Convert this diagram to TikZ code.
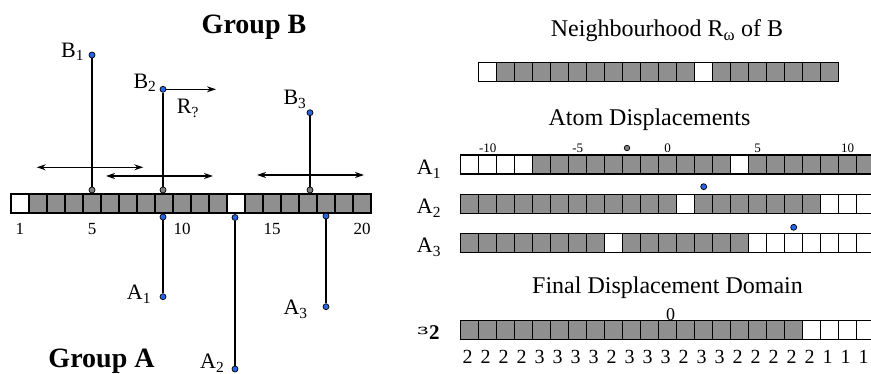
\documentclass[tikz,border=0pt]{standalone}
\usepackage{fontspec}
\setmainfont{Liberation Serif}
\newfontfamily\dvserif{DejaVu Serif}
\usetikzlibrary{arrows.meta}
\definecolor{cellgray}{RGB}{143,143,143}
\definecolor{dotblue}{RGB}{40,100,230}
\definecolor{dotgray}{RGB}{128,128,128}
\newcommand\mystrip[4]{%
  \foreach \i in {1,...,#3} \draw[gcell] ({#1+(\i-1)*18},#2) rectangle ++(18,19);
  \foreach \i in {#4} \draw[wcell] ({#1+(\i-1)*18},#2) rectangle ++(18,19);
}
\begin{document}
\begin{tikzpicture}[x=1pt,y=-1pt,
  gcell/.style={draw=black,line width=1.4pt,fill=cellgray},
  wcell/.style={draw=black,line width=1.4pt,fill=white},
  bdot/.style={circle,draw=black,line width=0.7pt,fill=dotblue,inner sep=0pt,minimum size=6pt},
  gdot/.style={circle,draw=black,line width=0.7pt,fill=dotgray,inner sep=0pt,minimum size=6pt},
  stick/.style={line width=1.2pt},
  dbl/.style={line width=1.2pt,{Stealth[length=9pt,width=6pt]}-{Stealth[length=9pt,width=6pt]}},
  one/.style={line width=1.2pt,-{Stealth[length=9pt,width=6pt]}},
  lbl/.style={inner sep=0pt,anchor=base west,font=\fontsize{22}{24}\selectfont},
  ttl/.style={inner sep=0pt,anchor=base,font=\fontsize{24}{26}\selectfont},
  grp/.style={inner sep=0pt,font=\fontsize{28}{30}\selectfont\bfseries},
  num/.style={inner sep=0pt,anchor=base,font=\fontsize{17}{18}\selectfont},
  axn/.style={inner sep=0pt,anchor=base,font=\fontsize{13}{14}\selectfont},
  cnt/.style={inner sep=0pt,anchor=base,font=\fontsize{20}{22}\selectfont}
]
\clip (0,0) rectangle (871,374);
\fill[white] (0,0) rectangle (871,374);

% ---------- left part ----------
\node[grp,anchor=base] (gb) at (254,33.3) {Group B};
\node[grp,anchor=base west] (ga) at (48.3,367.5) {Group A};

\mystrip{11}{194}{20}{1,13}
\node[num] (n1) at (20,235) {1};
\node[num] (n5) at (92,235) {5};
\node[num] (n10) at (182,235) {10};
\node[num] (n15) at (272,235) {15};
\node[num] (n20) at (362,235) {20};

% B atoms
\node[bdot] (B1) at (92,55) {};
\node[gdot] (B1g) at (92,190) {};
\draw[stick] (B1) -- (B1g);
\node[lbl] (B1l) at (61,57.3) {B\textsubscript{1}};

\node[bdot] (B2) at (163,89.3) {};
\node[gdot] (B2g) at (163,190) {};
\draw[stick] (B2) -- (B2g);
\node[lbl] (B2l) at (133.3,88.3) {B\textsubscript{2}};
\coordinate (R) at (216,89.3);
\draw[one] (B2) -- (R);
\node[lbl] (Rl) at (176.7,114) {R\textsubscript{?}};

\node[bdot] (B3) at (310,112.7) {};
\node[gdot] (B3g) at (310,190) {};
\draw[stick] (B3) -- (B3g);
\node[lbl] (B3l) at (283.3,105) {B\textsubscript{3}};

\coordinate (d1a) at (36.7,167.3);
\coordinate (d1b) at (143.3,167.3);
\draw[dbl] (d1a) -- (d1b);
\coordinate (d2a) at (106,176);
\coordinate (d2b) at (213,176);
\draw[dbl] (d2a) -- (d2b);
\coordinate (d3a) at (257,175);
\coordinate (d3b) at (364,175);
\draw[dbl] (d3a) -- (d3b);

% A atoms
\node[bdot] (A1t) at (163,217) {};
\node[bdot] (A1) at (163,296.7) {};
\draw[stick] (A1t) -- (A1);
\node[lbl] (A1l) at (126.7,300) {A\textsubscript{1}};

\node[bdot] (A2t) at (235,217.5) {};
\node[bdot] (A2) at (235,369) {};
\draw[stick] (A2t) -- (A2);
\node[lbl] (A2l) at (200,369) {A\textsubscript{2}};

\node[bdot] (A3t) at (326,216) {};
\node[bdot] (A3) at (326,306.7) {};
\draw[stick] (A3t) -- (A3);
\node[lbl] (A3l) at (283.3,315) {A\textsubscript{3}};

% ---------- right part ----------
\node[ttl] (tn) at (667,36.7) {Neighbourhood R\textsubscript{ω} of B};
\mystrip{478.3}{62.7}{20}{1,13}

\node[ttl] (ta) at (649.5,126) {Atom Displacements};
\node[axn] (m10) at (487.7,153) {-10};
\node[axn] (m5) at (577.7,153) {-5};
\node[axn] (z0) at (667.7,153) {0};
\node[axn] (p5) at (757.7,153) {5};
\node[axn] (p10) at (847.7,153) {10};
\node[gdot,minimum size=5.5pt] (g0) at (627,148) {};

\mystrip{460.7}{155}{23}{1,2,3,4,16}
\node[lbl] (RA1) at (416.7,175) {A\textsubscript{1}};
\node[bdot] (dA2) at (703.7,186.7) {};
\mystrip{460.7}{194.5}{23}{13,21,22,23}
\node[lbl] (RA2) at (416.7,214) {A\textsubscript{2}};
\node[bdot] (dA3) at (793.7,227.3) {};
\mystrip{460.7}{233.5}{23}{9,17,18,19,20,21,22,23}
\node[lbl] (RA3) at (416.7,253) {A\textsubscript{3}};

\node[ttl] (tf) at (667.5,293.3) {Final Displacement Domain};
\node[num,font=\fontsize{18}{19}\selectfont] (f0) at (670.7,320) {0};
\mystrip{460.7}{320.7}{23}{20,21,22,23}
\node[inner sep=0pt,anchor=base west,font=\fontsize{21}{22}\selectfont] (eps) at (417,340)
  {\raisebox{5pt}{\scalebox{1.6}[1]{\fontsize{14}{15}\dvserif ɜ}}\hspace{0.5pt}\textbf{2}};
\foreach \v [count=\i] in {2,2,2,2,3,3,3,3,2,3,3,3,2,3,3,2,2,2,2,2,1,1,1}
  \node[cnt] (c\i) at ({460.7+(\i-0.5)*18-2},363.3) {\v};
\end{tikzpicture}
\end{document}
